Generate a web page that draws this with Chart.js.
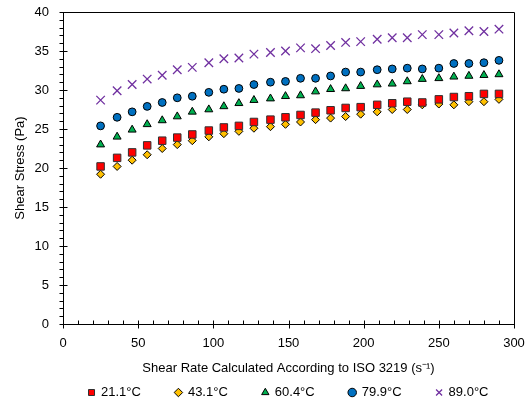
<!DOCTYPE html>
<html><head><meta charset="utf-8">
<script src="https://cdn.jsdelivr.net/npm/chart.js@4/dist/chart.umd.min.js"></script>
<style>html,body{margin:0;padding:0;background:#fff}</style>
</head><body>
<canvas id="c" width="529" height="405"></canvas>
<script>
// ---- data ----
const shearRate = [25, 36, 46, 56, 66, 76, 86, 97, 107, 117, 127, 138, 148, 158, 168, 178, 188, 198, 209, 219, 229, 239, 250, 260, 270, 280, 290];
const stress21_1 = [20.2, 21.3, 22.0, 22.9, 23.5, 23.9, 24.3, 24.8, 25.2, 25.4, 25.9, 26.2, 26.5, 26.8, 27.1, 27.4, 27.7, 27.8, 28.1, 28.3, 28.5, 28.4, 28.8, 29.1, 29.2, 29.5, 29.5];
const stress43_1 = [19.2, 20.2, 21.0, 21.7, 22.5, 23.0, 23.5, 24.0, 24.4, 24.7, 25.1, 25.3, 25.6, 25.9, 26.2, 26.4, 26.6, 26.9, 27.2, 27.5, 27.5, 28.1, 28.2, 28.1, 28.5, 28.5, 28.8];
const stress60_4 = [23.0, 24.0, 24.9, 25.6, 26.1, 26.6, 27.2, 27.5, 27.9, 28.3, 28.7, 28.9, 29.2, 29.3, 29.8, 30.1, 30.2, 30.5, 30.7, 30.8, 31.1, 31.4, 31.5, 31.7, 31.8, 31.9, 32.0];
const stress79_9 = [25.4, 26.5, 27.2, 27.9, 28.4, 29.0, 29.2, 29.7, 30.1, 30.2, 30.7, 31.0, 31.1, 31.5, 31.5, 31.8, 32.3, 32.3, 32.6, 32.7, 32.8, 32.7, 32.8, 33.4, 33.4, 33.5, 33.8];
const stress89_0 = [28.7, 29.9, 30.7, 31.4, 31.9, 32.6, 32.9, 33.5, 34.0, 34.1, 34.6, 34.8, 35.0, 35.4, 35.3, 35.7, 36.1, 36.2, 36.5, 36.7, 36.7, 37.1, 37.1, 37.3, 37.6, 37.5, 37.8];
const seriesLabels = ['21.1°C', '43.1°C', '60.4°C', '79.9°C', '89.0°C'];
const xTitle = 'Shear Rate Calculated According to ISO 3219 (s\u207B\u00B9)';
const yTitle = 'Shear Stress (Pa)';

const FONT = '"Liberation Sans", Arial, sans-serif';
const pts = (ys) => shearRate.map((x, i) => ({x, y: ys[i]}));

const styles = [
  {pointStyle: 'rect', backgroundColor: '#FF0000', borderColor: '#303030', radius: 5.3, borderWidth: 1},
  {pointStyle: 'rectRot', backgroundColor: '#FFC000', borderColor: '#000000', radius: 4, borderWidth: 1},
  {pointStyle: 'triangle', backgroundColor: '#00B050', borderColor: '#000000', radius: 4.6, borderWidth: 1},
  {pointStyle: 'circle', backgroundColor: '#0070C0', borderColor: '#000000', radius: 3.9, borderWidth: 1},
  {pointStyle: 'crossRot', backgroundColor: '#7030A0', borderColor: '#7030A0', radius: 6, borderWidth: 1.3}
];
const series = [stress21_1, stress43_1, stress60_4, stress79_9, stress89_0];
const datasets = series.map((s, i) => ({
  label: seriesLabels[i],
  data: pts(s),
  showLine: false,
  pointStyle: styles[i].pointStyle,
  backgroundColor: styles[i].backgroundColor,
  borderColor: styles[i].borderColor,
  pointRadius: styles[i].radius,
  pointHoverRadius: styles[i].radius,
  pointBorderWidth: styles[i].borderWidth,
  borderWidth: styles[i].borderWidth
}));

const framePlugin = {
  id: 'frame',
  afterDraw(chart) {
    const {ctx, chartArea, scales: {x, y}} = chart;
    const L = Math.round(chartArea.left) + 0.5, R = Math.round(chartArea.right) + 0.5;
    const T = Math.round(chartArea.top) + 0.5, B = Math.round(chartArea.bottom) + 0.5;
    ctx.save();
    ctx.strokeStyle = '#000';
    ctx.lineWidth = 1;
    ctx.beginPath();
    ctx.rect(L, T, R - L, B - T);
    for (let v = y.min; v <= y.max; v += 1) {
      const p = Math.round(y.getPixelForValue(v)) + 0.5;
      ctx.moveTo(L - 4, p);
      ctx.lineTo(v % 5 === 0 ? L + 4 : L, p);
    }
    for (let v = x.min; v <= x.max; v += 10) {
      const p = Math.round(x.getPixelForValue(v)) + 0.5;
      ctx.moveTo(p, B - 4);
      ctx.lineTo(p, v % 50 === 0 ? B + 4 : B);
    }
    ctx.stroke();
    ctx.restore();
  }
};

const hiddenGrid = (len) => ({display: true, drawOnChartArea: false, drawTicks: true, tickLength: len, tickColor: 'rgba(0,0,0,0)'});

new Chart(document.getElementById('c'), {
  type: 'scatter',
  data: {datasets},
  plugins: [framePlugin],
  options: {
    responsive: false,
    animation: false,
    layout: {autoPadding: false, padding: {top: 12, right: 15, left: 0, bottom: -4}},
    plugins: {
      tooltip: {enabled: false},
      legend: {
        position: 'bottom',
        fullSize: false,
        labels: {
          usePointStyle: true,
          boxWidth: 6,
          boxHeight: 6,
          padding: 2,
          color: '#000',
          font: {family: FONT, size: 13},
          generateLabels(chart) {
            const items = Chart.defaults.plugins.legend.labels.generateLabels(chart);
            items.forEach((it, i) => { if (i < items.length - 1) it.text = it.text + '\u00A0'.repeat(9); });
            return items;
          }
        }
      }
    },
    scales: {
      x: {
        type: 'linear', min: 0, max: 300,
        grid: hiddenGrid(12),
        border: {display: false},
        ticks: {stepSize: 50, padding: 0, color: '#000', font: {family: FONT, size: 13}, maxRotation: 0},
        title: {display: true, text: xTitle, color: '#000', font: {family: FONT, size: 13}, padding: {top: 0, bottom: 8}},
        afterFit(s) { s.height = 60; }
      },
      y: {
        type: 'linear', min: 0, max: 40,
        grid: hiddenGrid(14),
        border: {display: false},
        ticks: {stepSize: 5, padding: 0, color: '#000', font: {family: FONT, size: 13}},
        title: {display: true, text: yTitle, color: '#000', font: {family: FONT, size: 13}, padding: {top: 13, bottom: 0}},
        afterFit(s) { s.width = 63; }
      }
    }
  }
});
</script>
</body></html>
